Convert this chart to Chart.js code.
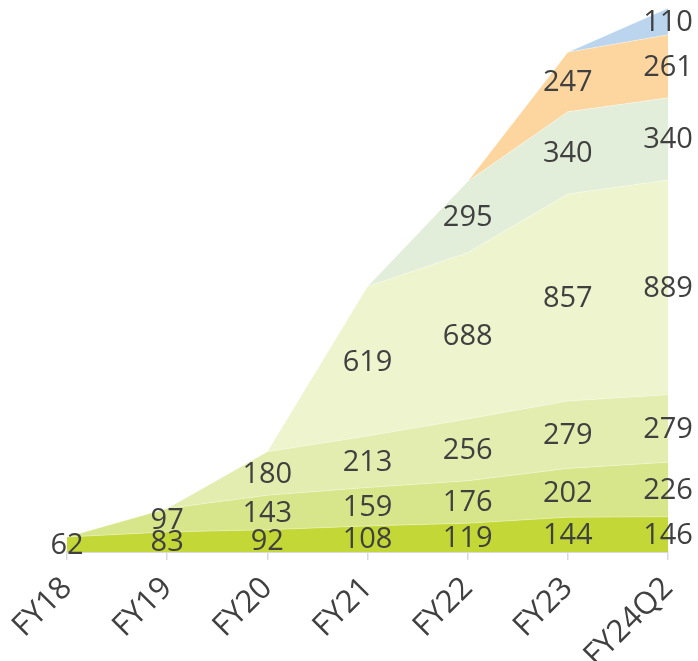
<!DOCTYPE html>
<html>
<head>
<meta charset="utf-8">
<script src="https://cdn.jsdelivr.net/npm/chart.js@4/dist/chart.umd.min.js"></script>
<style>
html,body{margin:0;padding:0;background:#fff;}
#wrap{width:698px;height:661px;}
</style>
</head>
<body>
<div id="wrap"><canvas id="c" width="698" height="661"></canvas></div>
<script>
const categories = ["FY18","FY19","FY20","FY21","FY22","FY23","FY24Q2"];
const layer1 = [62, 83, 92, 108, 119, 144, 146];
const layer2 = [0, 97, 143, 159, 176, 202, 226];
const layer3 = [0, 0, 180, 213, 256, 279, 279];
const layer4 = [0, 0, 0, 619, 688, 857, 889];
const layer5 = [0, 0, 0, 0, 295, 340, 340];
const layer6 = [0, 0, 0, 0, 0, 247, 261];
const layer7 = [0, 0, 0, 0, 0, 0, 110];

const layers = [layer1, layer2, layer3, layer4, layer5, layer6, layer7];
const colors = ["#c3d737", "#d8e68b", "#e3edb0", "#eef4cd", "#e2eed9", "#fdd69f", "#bbd5ee"];

const FONT = "'Open Sans', sans-serif";
const TEXT = "#404040";

const labelPlugin = {
  id: 'stackLabels',
  afterDatasetsDraw(chart) {
    const ctx = chart.ctx;
    const xs = chart.scales.x, ys = chart.scales.y;
    ctx.save();
    ctx.font = "29px " + FONT;
    ctx.fillStyle = TEXT;
    ctx.textAlign = "center";
    ctx.textBaseline = "middle";
    for (let j = 0; j < categories.length; j++) {
      let base = 0;
      for (let i = 0; i < layers.length; i++) {
        const v = layers[i][j];
        if (v > 0) {
          const x = xs.getPixelForValue(j);
          const y = ys.getPixelForValue(base + v / 2);
          ctx.fillText(String(v), x, y + 1);
        }
        base += v;
      }
    }
    ctx.restore();
  }
};

new Chart(document.getElementById('c'), {
  type: 'line',
  data: {
    labels: categories,
    datasets: layers.map((d, i) => ({
      data: d,
      backgroundColor: colors[i],
      borderColor: 'rgba(255,255,255,0.35)',
      borderWidth: 1,
      pointRadius: 0,
      fill: i === 0 ? 'origin' : '-1',
      tension: 0
    }))
  },
  options: {
    responsive: false,
    animation: false,
    layout: { padding: { left: 67, right: 30, top: 0, bottom: 0 } },
    plugins: { legend: { display: false }, tooltip: { enabled: false } },
    scales: {
      x: {
        offset: false,
        afterFit(scale) { scale.height = 109; scale.paddingLeft = 0; scale.paddingRight = 0; },
        grid: { display: true, drawOnChartArea: false, drawTicks: true, tickLength: 8, color: '#d9d9d9', lineWidth: 1.5 },
        border: { display: true, color: '#d9d9d9', width: 2 },
        ticks: { color: TEXT, font: { family: FONT, size: 31 }, minRotation: 45, maxRotation: 45, padding: 10 }
      },
      y: {
        display: false,
        stacked: true,
        min: 0,
        max: 2285
      }
    }
  },
  plugins: [labelPlugin]
});
</script>
</body>
</html>
